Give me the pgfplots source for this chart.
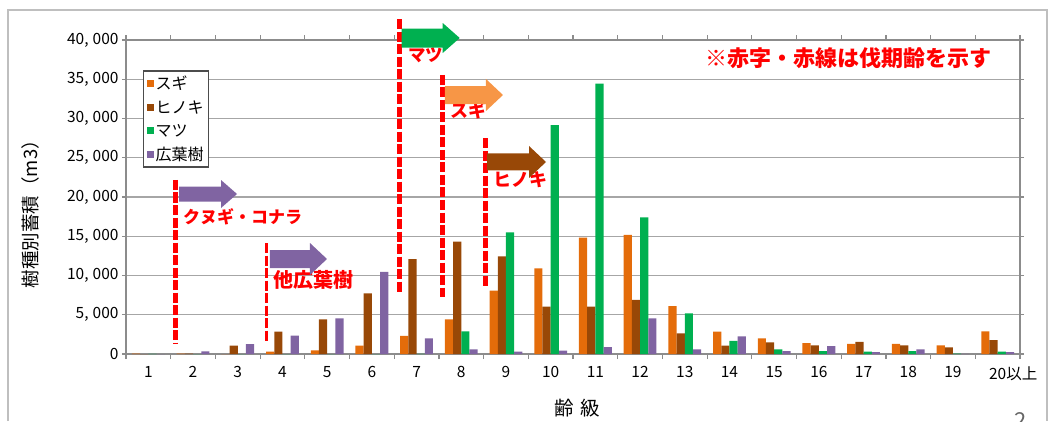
\documentclass[border=0pt]{standalone}
\usepackage{fontspec}
\setmainfont{Noto Sans CJK JP}
\usepackage{pgfplots}
\pgfplotsset{compat=1.18}

\definecolor{sugi}{HTML}{E46C0A}
\definecolor{hinoki}{HTML}{984807}
\definecolor{matsu}{HTML}{00B050}
\definecolor{broad}{HTML}{8064A2}
\definecolor{sugilight}{HTML}{F79646}
\definecolor{note}{HTML}{FF0000}

% fat block arrow: colour, x, y (tail centre), length, half body, half head, head length (pt)
\newcommand{\fatarrow}[7]{%
  \fill[#1] (axis cs:#2,#3) ++(0pt,#5pt) -- ++({#4pt-#7pt},0pt)
    -- ++(0pt,{#6pt-#5pt}) -- ++(#7pt,-#6pt) -- ++(-#7pt,-#6pt)
    -- ++(0pt,{#6pt-#5pt}) -- ++({#7pt-#4pt},0pt) -- cycle;}

\begin{document}
\begin{tikzpicture}[x=1pt,y=1pt]
\useasboundingbox (0,0) rectangle (1052,421);
\draw[black!25, line width=1.2pt] (8,0) -- (8,411) -- (1047,411) -- (1047,0);
\node[black!60, inner sep=0pt, anchor=north, font=\fontsize{22}{22}\selectfont] at (1021,9) {2};

\begin{axis}[
  at={(126pt,67pt)}, anchor=south west,
  scale only axis, width=894pt, height=314pt,
  ybar=0pt, bar width=8.2pt,
  xmin=0.5, xmax=20.5, ymin=0, ymax=40000,
  xtick={1,...,20},
  xticklabels={1,2,3,4,5,6,7,8,9,10,11,12,13,14,15,16,17,18,19,20\rlap{以上}},
  minor xtick={0.5,1.5,...,20.5},
  ytick={0,5000,...,40000},
  scaled y ticks=false,
  yticklabel style={/pgf/number format/.cd, fixed, 1000 sep={,\hspace{4pt}}, assume math mode=true},
  tick align=outside,
  major tick length=4pt, minor tick length=5pt,
  major x tick style={draw=none},
  minor x tick style={black!45, line width=1.2pt},
  major y tick style={black!45, line width=1.2pt},
  axis line style={black!45, line width=1.2pt},
  ymajorgrids, grid style={black!35, line width=1.2pt},
  tick label style={font=\fontsize{15.5}{15.5}\selectfont},
  xticklabel style={yshift=-5pt},
  ylabel={樹種別蓄積（m3）},
  ylabel style={at={(axis description cs:-0.107,0.46)}, anchor=center, font=\fontsize{18.5}{18.5}\selectfont},
  xlabel={齢\hspace{6pt}級},
  xlabel style={at={(axis description cs:0.5045,-0.172)}, anchor=center, font=\fontsize{19.5}{19.5}\selectfont},
  clip=false,
  legend style={at={(rel axis cs:0.019,0.904)}, anchor=north west,
    draw=black!70, line width=1.5pt, fill=white,
    font=\fontsize{16}{16}\selectfont, inner xsep=3pt, inner ysep=3pt,
    row sep=5.5pt},
  legend cell align=left,
  legend image code/.code={\fill[#1] (0pt,-3.5pt) rectangle (7pt,3.5pt);},
]
% スギ
\addplot[fill=sugi, draw=none] coordinates {
 (1,40) (2,60) (3,0) (4,300) (5,460) (6,1060) (7,2300) (8,4420) (9,8070) (10,10920)
 (11,14820) (12,15160) (13,6110) (14,2850) (15,2000) (16,1400) (17,1300) (18,1300) (19,1100) (20,2890)};
% ヒノキ
\addplot[fill=hinoki, draw=none] coordinates {
 (1,0) (2,50) (3,1060) (4,2850) (5,4400) (6,7730) (7,12100) (8,14300) (9,12440) (10,6030)
 (11,6030) (12,6880) (13,2630) (14,1060) (15,1490) (16,1100) (17,1530) (18,1100) (19,850) (20,1780)};
% マツ
\addplot[fill=matsu, draw=none] coordinates {
 (1,30) (2,0) (3,0) (4,0) (5,0) (6,0) (7,30) (8,2890) (9,15500) (10,29170)
 (11,34440) (12,17410) (13,5180) (14,1660) (15,600) (16,380) (17,300) (18,380) (19,40) (20,300)};
% 広葉樹
\addplot[fill=broad, draw=none] coordinates {
 (1,0) (2,330) (3,1250) (4,2350) (5,4550) (6,10450) (7,2000) (8,600) (9,300) (10,420)
 (11,890) (12,4550) (13,600) (14,2250) (15,380) (16,1000) (17,250) (18,600) (19,30) (20,250)};
\legend{スギ,ヒノキ,マツ,広葉樹}

% harvest-age markers
\draw[note, line width=5pt, dash pattern=on 10pt off 2.5pt] (axis cs:1.611,22166) -- (axis cs:1.611,1401);
\draw[note, line width=3.5pt, dash pattern=on 10pt off 2.5pt] (axis cs:3.648,14140) -- (axis cs:3.648,1529);
\draw[note, line width=4.5pt, dash pattern=on 10pt off 2.5pt] (axis cs:6.614,42675) -- (axis cs:6.614,7898);
\draw[note, line width=4.5pt, dash pattern=on 10pt off 2.5pt] (axis cs:7.585,35542) -- (axis cs:7.585,7261);
\draw[note, line width=4.5pt, dash pattern=on 10pt off 2.5pt] (axis cs:8.547,27516) -- (axis cs:8.547,8535);

\node[anchor=west, inner sep=0pt, text=note, font=\bfseries\fontsize{17}{17}\selectfont] at (axis cs:1.775,17452) {クヌギ・コナラ};
\node[anchor=west, inner sep=0pt, text=note, font=\bfseries\fontsize{20}{20}\selectfont] at (axis cs:3.789,9427) {他広葉樹};
\node[anchor=west, inner sep=0pt, text=note, font=\bfseries\fontsize{17.5}{17.5}\selectfont] at (axis cs:6.809,38090) {マツ};
\node[anchor=west, inner sep=0pt, text=note, font=\bfseries\fontsize{18}{18}\selectfont] at (axis cs:7.748,31083) {スギ};
\node[anchor=west, inner sep=0pt, text=note, font=\bfseries\fontsize{18}{18}\selectfont] at (axis cs:8.710,22166) {ヒノキ};
\node[anchor=west, inner sep=0pt, text=note, font=\bfseries\fontsize{22}{22}\selectfont] at (axis cs:13.45,37707) {※赤字・赤線は伐期齢を示す};

\fatarrow{broad}{1.686}{20382}{58}{7.5}{14}{16}
\fatarrow{broad}{3.721}{12102}{57}{9}{16}{17}
\fatarrow{matsu}{6.668}{40255}{58}{9.5}{15}{17}
\fatarrow{sugilight}{7.636}{32994}{58}{9}{16}{17}
\fatarrow{hinoki}{8.576}{24459}{59}{8.5}{16}{17}
\end{axis}
\end{tikzpicture}
\end{document}
